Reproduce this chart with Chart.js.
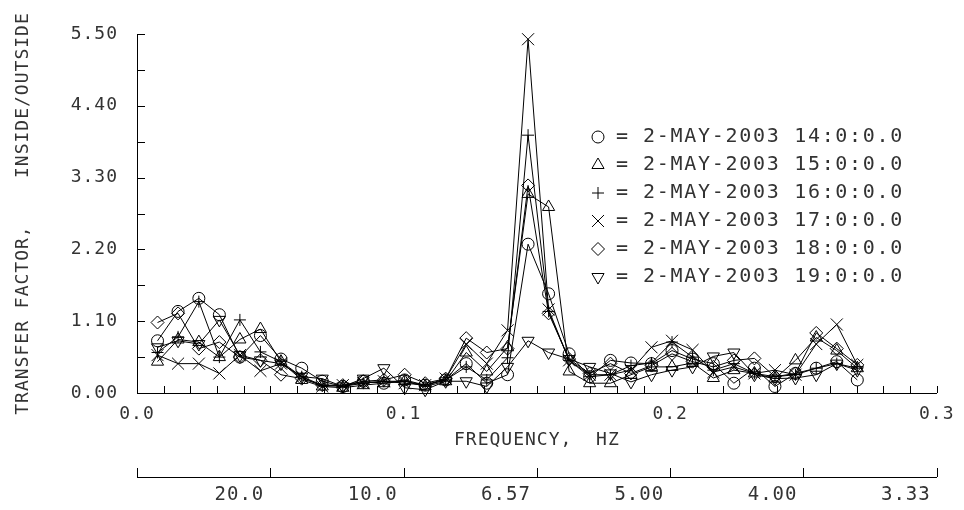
<!DOCTYPE html>
<html>
<head>
<meta charset="utf-8">
<title>Transfer factor</title>
<script src="https://cdn.jsdelivr.net/npm/chart.js@4.4.1/dist/chart.umd.min.js"></script>
<style>
  body { margin: 0; background: #fff; }
  canvas { display: block; }
</style>
</head>
<body>
<canvas id="tfChart" width="964" height="510"></canvas>
<script>
// frequency of each spectral estimate, Hz
const freqs = [0.0077, 0.0154, 0.0232, 0.0309, 0.0386, 0.0463, 0.0540, 0.0618, 0.0695, 0.0772,
               0.0849, 0.0926, 0.1004, 0.1081, 0.1158, 0.1235, 0.1312, 0.1390, 0.1467, 0.1544,
               0.1621, 0.1698, 0.1776, 0.1853, 0.1930, 0.2007, 0.2084, 0.2162, 0.2239, 0.2316,
               0.2393, 0.2470, 0.2548, 0.2625, 0.2702];

// transfer factor inside/outside, one list per hour
const tf14 = [0.80, 1.25, 1.45, 1.20, 0.55, 0.88, 0.52, 0.38, 0.18, 0.10, 0.18, 0.15, 0.20, 0.12, 0.20,
              0.45, 0.15, 0.28, 2.28, 1.52, 0.60, 0.25, 0.50, 0.46, 0.45, 0.65, 0.52, 0.45, 0.15, 0.38,
              0.10, 0.30, 0.38, 0.48, 0.20];
const tf15 = [0.48, 0.82, 0.78, 0.55, 0.82, 0.98, 0.48, 0.20, 0.10, 0.08, 0.12, 0.15, 0.18, 0.10, 0.18,
              0.62, 0.33, 0.70, 3.05, 2.85, 0.33, 0.15, 0.15, 0.28, 0.40, 0.40, 0.46, 0.23, 0.35, 0.30,
              0.22, 0.50, 0.85, 0.65, 0.38];
const tf16 = [0.62, 0.86, 1.40, 0.55, 1.12, 0.63, 0.48, 0.25, 0.12, 0.10, 0.15, 0.18, 0.18, 0.12, 0.20,
              0.40, 0.20, 0.54, 3.95, 1.25, 0.50, 0.25, 0.28, 0.42, 0.46, 0.78, 0.55, 0.35, 0.45, 0.30,
              0.25, 0.28, 0.38, 0.45, 0.38];
const tf17 = [0.58, 0.45, 0.45, 0.30, 0.58, 0.34, 0.45, 0.25, 0.10, 0.12, 0.15, 0.18, 0.15, 0.12, 0.22,
              0.75, 0.45, 0.96, 5.42, 1.28, 0.50, 0.28, 0.28, 0.35, 0.70, 0.80, 0.66, 0.32, 0.40, 0.30,
              0.35, 0.28, 0.75, 1.05, 0.43];
const tf18 = [1.08, 1.22, 0.68, 0.78, 0.55, 0.50, 0.28, 0.22, 0.12, 0.12, 0.18, 0.20, 0.28, 0.15, 0.22,
              0.84, 0.62, 0.68, 3.18, 1.22, 0.52, 0.30, 0.45, 0.30, 0.42, 0.60, 0.48, 0.40, 0.50, 0.53,
              0.25, 0.30, 0.92, 0.68, 0.43];
const tf19 = [0.70, 0.80, 0.75, 1.12, 0.58, 0.50, 0.45, 0.25, 0.22, 0.10, 0.22, 0.38, 0.08, 0.05, 0.18,
              0.18, 0.10, 0.40, 0.80, 0.62, 0.52, 0.40, 0.30, 0.17, 0.28, 0.35, 0.40, 0.56, 0.62, 0.28,
              0.22, 0.23, 0.28, 0.45, 0.35];

const seriesLabels = ['2-MAY-2003 14:0:0.0', '2-MAY-2003 15:0:0.0', '2-MAY-2003 16:0:0.0',
                      '2-MAY-2003 17:0:0.0', '2-MAY-2003 18:0:0.0', '2-MAY-2003 19:0:0.0'];
const xTickLabels = ['0.0', '0.1', '0.2', '0.3'];
const yTickLabels = ['0.00', '1.10', '2.20', '3.30', '4.40', '5.50'];
// period axis under the frequency axis (ticks every 0.05 Hz)
const periodLabels = ['', '20.0', '10.0', '6.57', '5.00', '4.00', '3.33'];

const FONT = '"DejaVu Sans Mono", "Liberation Mono", monospace';
const INK = '#333';

function pts(vals) {
    return freqs.map((f, i) => ({ x: f, y: vals[i] }));
}

function series(label, vals, style, radius, rot) {
    return {
        label: label,
        data: pts(vals),
        borderColor: '#000',
        borderWidth: 1,
        backgroundColor: 'rgba(0,0,0,0)',
        pointStyle: style,
        pointRadius: radius,
        pointRotation: rot || 0,
        pointBorderColor: '#000',
        pointBackgroundColor: 'rgba(0,0,0,0)',
        pointBorderWidth: 1,
        tension: 0,
        clip: false
    };
}

// letter spacing so the mono font gets the wide plotter look
const spacing = {
    id: 'spacing',
    beforeDraw(chart) {
        chart.ctx.letterSpacing = '1px';
    }
};

// tick marks pointing into the plot
const inwardTicks = {
    id: 'inwardTicks',
    afterDraw(chart) {
        const { ctx, scales } = chart;
        ctx.save();
        ctx.strokeStyle = '#000';
        ctx.lineWidth = 1;
        ctx.beginPath();
        scales.y.ticks.forEach(t => {
            const py = Math.round(scales.y.getPixelForValue(t.value)) + 0.5;
            ctx.moveTo(scales.y.right, py);
            ctx.lineTo(scales.y.right + 8, py);
        });
        scales.x.ticks.forEach(t => {
            const px = Math.round(scales.x.getPixelForValue(t.value)) + 0.5;
            ctx.moveTo(px, scales.x.top);
            ctx.lineTo(px, scales.x.top - 7);
        });
        scales.x2.ticks.forEach(t => {
            const px = Math.round(scales.x2.getPixelForValue(t.value)) + 0.5;
            ctx.moveTo(px, scales.x2.top);
            ctx.lineTo(px, scales.x2.top - 9);
        });
        ctx.stroke();
        ctx.restore();
    }
};

// symbol = label list inside the plot
const symbolKey = {
    id: 'symbolKey',
    afterDraw(chart) {
        const ctx = chart.ctx;
        ctx.save();
        ctx.font = '20px ' + FONT;
        ctx.letterSpacing = '1.7px';
        ctx.textBaseline = 'middle';
        ctx.textAlign = 'left';
        ctx.strokeStyle = '#000';
        ctx.lineWidth = 1;
        chart.data.datasets.forEach((ds, i) => {
            const y = 137 + i * 28;
            ctx.fillStyle = 'rgba(0,0,0,0)';
            Chart.helpers.drawPoint(ctx, {
                pointStyle: ds.pointStyle,
                rotation: ds.pointRotation,
                radius: ds.pointRadius,
                borderWidth: 1
            }, 598, y);
            ctx.fillStyle = INK;
            ctx.fillText('=', 616, y);
            ctx.fillText(ds.label, 643, y);
        });
        ctx.restore();
    }
};

const tfChart = new Chart(document.getElementById('tfChart'), {
    type: 'line',
    data: {
        datasets: [
            series(seriesLabels[0], tf14, 'circle', 6),
            series(seriesLabels[1], tf15, 'triangle', 7),
            series(seriesLabels[2], tf16, 'cross', 6),
            series(seriesLabels[3], tf17, 'crossRot', 8.5),
            series(seriesLabels[4], tf18, 'rectRot', 6.5),
            series(seriesLabels[5], tf19, 'triangle', 7, 180)
        ]
    },
    options: {
        responsive: false,
        animation: false,
        devicePixelRatio: 1,
        layout: { padding: { left: 0, right: 27, top: 34, bottom: 0 } },
        plugins: {
            legend: { display: false },
            tooltip: { enabled: false }
        },
        scales: {
            x: {
                type: 'linear',
                position: 'bottom',
                min: 0,
                max: 0.3,
                grid: { display: false, drawTicks: false },
                border: { display: true, color: '#000', width: 1 },
                ticks: {
                    stepSize: 0.01,
                    autoSkip: false,
                    maxRotation: 0,
                    padding: 11,
                    color: INK,
                    font: { family: FONT, size: 18 },
                    callback: (v, i) => (i % 10 === 0 ? xTickLabels[i / 10] : '')
                },
                title: {
                    display: true,
                    text: 'FREQUENCY,  HZ',
                    color: INK,
                    font: { family: FONT, size: 18 },
                    padding: { top: 0, bottom: 26 }
                },
                afterFit: s => { s.height = 84; }
            },
            x2: {
                type: 'linear',
                position: 'bottom',
                weight: 1,
                min: 0,
                max: 0.3,
                grid: { display: false, drawTicks: false },
                border: { display: true, color: '#000', width: 1 },
                ticks: {
                    stepSize: 0.05,
                    autoSkip: false,
                    maxRotation: 0,
                    align: 'end',
                    labelOffset: -6,
                    padding: 7,
                    color: INK,
                    font: { family: FONT, size: 19 },
                    callback: (v, i) => periodLabels[i]
                },
                afterFit: s => { s.height = 33; }
            },
            y: {
                type: 'linear',
                position: 'left',
                min: 0,
                max: 5.5,
                grid: { display: false, drawTicks: false },
                border: { display: true, color: '#000', width: 1 },
                ticks: {
                    stepSize: 0.55,
                    autoSkip: false,
                    padding: 19,
                    color: INK,
                    font: { family: FONT, size: 18 },
                    callback: (v, i) => (i % 2 === 0 ? yTickLabels[i / 2] : '')
                },
                title: {
                    display: true,
                    text: 'TRANSFER FACTOR,    INSIDE/OUTSIDE',
                    color: INK,
                    font: { family: FONT, size: 18 },
                    padding: { top: 13, bottom: 0 }
                },
                afterFit: s => { s.width = 137; }
            }
        }
    },
    plugins: [spacing, inwardTicks, symbolKey]
});
</script>
</body>
</html>
